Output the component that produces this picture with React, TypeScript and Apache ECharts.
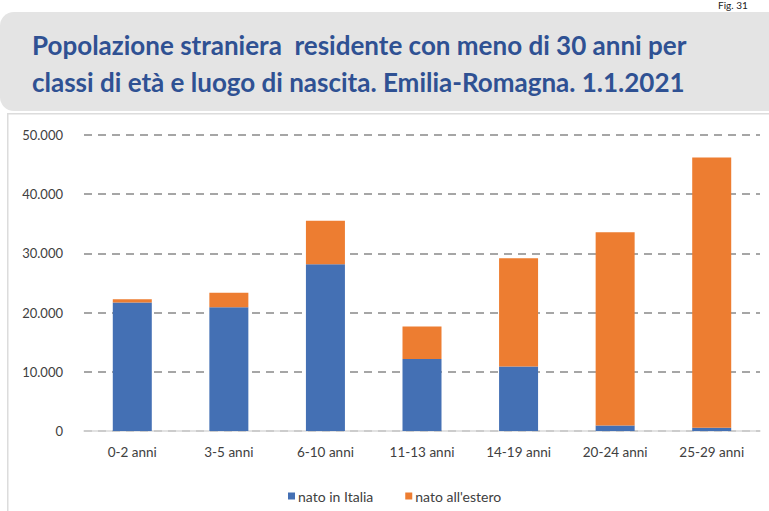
import React, { useEffect, useRef } from "react";
import * as echarts from "echarts";

const categories = ["0-2 anni", "3-5 anni", "6-10 anni", "11-13 anni", "14-19 anni", "20-24 anni", "25-29 anni"];
const natoInItalia = [21700, 20900, 28150, 12150, 10900, 950, 550];
const natoAllEstero = [560, 2470, 7350, 5490, 18270, 32610, 45650];
const seriesNames = ["nato in Italia", "nato all'estero"];
const titleLines = [
  "Popolazione straniera  residente con meno di 30 anni per",
  "classi di età e luogo di nascita. Emilia-Romagna. 1.1.2021",
];

const fmt = (v: number) => String(v).replace(/\B(?=(\d{3})+(?!\d))/g, ".");

export default function App() {
  const ref = useRef<HTMLDivElement>(null);
  useEffect(() => {
    document.body.style.margin = "0";
    const chart = echarts.init(ref.current!, null, { renderer: "svg" });
    const font = "Lato, 'Noto Sans', sans-serif";
    chart.setOption({
      animation: false,
      backgroundColor: "#ffffff",
      textStyle: { fontFamily: font },
      graphic: [
        {
          type: "text",
          left: 718,
          top: 0,
          style: { text: "Fig. 31", font: `10px ${font}`, fill: "#222" },
        },
        {
          type: "rect",
          left: 0,
          top: 12,
          shape: { width: 769, height: 99, r: [14, 0, 0, 14] },
          style: { fill: "#e4e4e4" },
        },
        {
          type: "rect",
          left: 7,
          top: 113,
          shape: { width: 800, height: 420 },
          style: { fill: "#ffffff", stroke: "#dcdcdc", lineWidth: 1.5 },
        },
        {
          type: "text",
          left: 32,
          top: 32,
          style: { text: titleLines[0], font: `bold 26px ${font}`, fill: "#2f5193" },
        },
        {
          type: "text",
          left: 32,
          top: 69,
          style: { text: titleLines[1], font: `bold 26px ${font}`, fill: "#2f5193" },
        },
      ],
      grid: { left: 84, right: 9, top: 135, bottom: 80, containLabel: false },
      legend: {
        data: seriesNames,
        left: 283,
        top: 484,
        icon: "rect",
        itemWidth: 7,
        itemHeight: 7,
        itemGap: 32,
        textStyle: { fontSize: 14, color: "#404040", fontFamily: font, padding: [0, 0, 0, -2] },
      },
      xAxis: {
        type: "category",
        data: categories,
        axisLine: { show: true, lineStyle: { color: "#d9d9d9", width: 1.5 } },
        axisTick: { show: false },
        axisLabel: { fontSize: 13.5, color: "#404040", margin: 14, fontFamily: font },
      },
      yAxis: {
        type: "value",
        min: 0,
        max: 50000,
        interval: 10000,
        axisLine: { show: false },
        axisTick: { show: false },
        axisLabel: { fontSize: 13, color: "#404040", margin: 21, formatter: (v: number) => fmt(v), fontFamily: font },
        splitLine: { show: true, lineStyle: { color: "#a6a6a6", width: 2, type: [8, 6] } },
      },
      series: [
        {
          name: seriesNames[0],
          type: "bar",
          stack: "tot",
          data: natoInItalia,
          barWidth: 39,
          itemStyle: { color: "#4470b4" },
        },
        {
          name: seriesNames[1],
          type: "bar",
          stack: "tot",
          data: natoAllEstero,
          barWidth: 39,
          itemStyle: { color: "#ed7d31" },
        },
      ],
    });
    return () => chart.dispose();
  }, []);
  return <div ref={ref} style={{ position: "absolute", left: 0, top: 0, width: 769, height: 511 }} />;
}
